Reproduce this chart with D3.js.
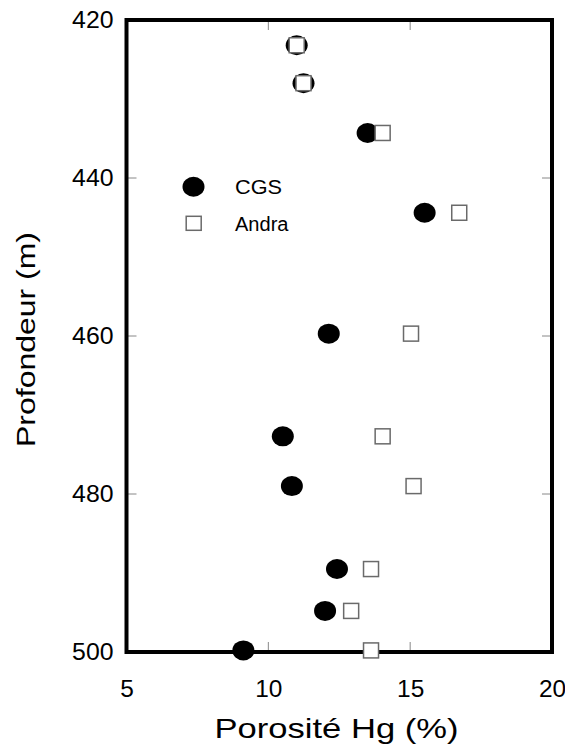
<!DOCTYPE html>
<html>
<head>
<meta charset="utf-8">
<script src="https://cdn.jsdelivr.net/npm/d3@7"></script>
<style>
  html, body { margin: 0; padding: 0; background: #fff; }
  svg { display: block; font-family: "Liberation Sans", Arial, sans-serif; }
</style>
</head>
<body>
<svg id="chart" width="565" height="746"></svg>
<script>
// Data (depth in m, porosity in %)
const cgsDepth   = [423.2, 428.0, 434.3, 444.4, 459.7, 472.7, 479.0, 489.5, 494.8, 499.8];
const cgsPoro    = [11.0, 11.24, 13.5, 15.51, 12.13, 10.51, 10.83, 12.42, 12.0, 9.12];
const andraDepth = [423.2, 428.0, 434.3, 444.4, 459.7, 472.7, 479.0, 489.5, 494.8, 499.8];
const andraPoro  = [11.0, 11.24, 14.03, 16.73, 15.03, 14.03, 15.12, 13.62, 12.92, 13.62];
const xTicks = [5, 10, 15, 20];
const yTicks = [420, 440, 460, 480, 500];
const seriesNames = ["CGS", "Andra"];
const xTitle = "Porosité Hg (%)";
const yTitle = "Profondeur (m)";

const svg = d3.select("#chart");
const L = 126.5, R = 552, T = 20, B = 652;

const x = d3.scaleLinear().domain([5, 20]).range([L, R]);
const y = d3.scaleLinear().domain([420, 500]).range([T, B]);

// inner ticks (all four sides)
const tickColor = "#888";
const tk = svg.append("g").attr("stroke", tickColor).attr("stroke-width", 1);
xTicks.slice(1, -1).forEach(v => {
  tk.append("line").attr("x1", x(v)).attr("x2", x(v)).attr("y1", B).attr("y2", B - 10);
  tk.append("line").attr("x1", x(v)).attr("x2", x(v)).attr("y1", T).attr("y2", T + 10);
});
yTicks.slice(1, -1).forEach(v => {
  tk.append("line").attr("y1", y(v)).attr("y2", y(v)).attr("x1", L).attr("x2", L + 10);
  tk.append("line").attr("y1", y(v)).attr("y2", y(v)).attr("x1", R).attr("x2", R - 10);
});

// axes labels via d3 axes
const xAxis = d3.axisBottom(x).tickValues(xTicks).tickSize(0).tickPadding(29).tickFormat(d3.format("d"));
const gx = svg.append("g").attr("transform", `translate(0,${B})`).call(xAxis);
gx.select(".domain").remove();
gx.selectAll("text").attr("font-size", 23).attr("fill", "#000")
  .attr("font-family", "Liberation Sans, Arial, sans-serif")
  .attr("textLength", function() { return this.textContent.length * 13.6; })
  .attr("lengthAdjust", "spacingAndGlyphs");

const yAxis = d3.axisLeft(y).tickValues(yTicks).tickSize(0).tickPadding(13).tickFormat(d3.format("d"));
const gy = svg.append("g").attr("transform", `translate(${L},0)`).call(yAxis);
gy.select(".domain").remove();
gy.selectAll("text").attr("font-size", 23).attr("fill", "#000")
  .attr("font-family", "Liberation Sans, Arial, sans-serif")
  .attr("textLength", function() { return this.textContent.length * 13.8; })
  .attr("lengthAdjust", "spacingAndGlyphs");

// frame
svg.append("rect").attr("x", L).attr("y", T).attr("width", R - L).attr("height", B - T)
  .attr("fill", "none").attr("stroke", "#000").attr("stroke-width", 4);

// titles
svg.append("text").attr("x", 336.5).attr("y", 738).attr("text-anchor", "middle")
  .attr("font-size", 28).attr("textLength", 244).attr("lengthAdjust", "spacingAndGlyphs")
  .text(xTitle);
svg.append("text").attr("transform", "translate(35,339.5) rotate(-90)").attr("text-anchor", "middle")
  .attr("font-size", 25).attr("textLength", 215).attr("lengthAdjust", "spacingAndGlyphs")
  .text(yTitle);

// points
const cgs = cgsDepth.map((d, i) => ({ depth: d, poro: cgsPoro[i] }));
const andra = andraDepth.map((d, i) => ({ depth: d, poro: andraPoro[i] }));
const sq = 15;

svg.append("g").selectAll("ellipse").data(cgs).join("ellipse")
  .attr("cx", d => x(d.poro)).attr("cy", d => y(d.depth))
  .attr("rx", 11).attr("ry", 10).attr("fill", "#000");

svg.append("g").selectAll("rect").data(andra).join("rect")
  .attr("x", d => x(d.poro) - sq / 2).attr("y", d => y(d.depth) - sq / 2)
  .attr("width", sq).attr("height", sq)
  .attr("fill", "#fff").attr("stroke", "#6a6a6a").attr("stroke-width", 1.5);

// legend
const lg = svg.append("g");
lg.append("ellipse").attr("cx", 193.5).attr("cy", 186.7).attr("rx", 11).attr("ry", 10).attr("fill", "#000");
lg.append("text").attr("x", 235).attr("y", 194.3).attr("font-size", 20)
  .attr("textLength", 47).attr("lengthAdjust", "spacingAndGlyphs").text(seriesNames[0]);
lg.append("rect").attr("x", 193.7 - 7.5).attr("y", 223.3 - 7).attr("width", 15).attr("height", 14)
  .attr("fill", "#fff").attr("stroke", "#6a6a6a").attr("stroke-width", 1.5);
lg.append("text").attr("x", 235).attr("y", 231).attr("font-size", 20)
  .attr("textLength", 53.5).attr("lengthAdjust", "spacingAndGlyphs").text(seriesNames[1]);
</script>
</body>
</html>
